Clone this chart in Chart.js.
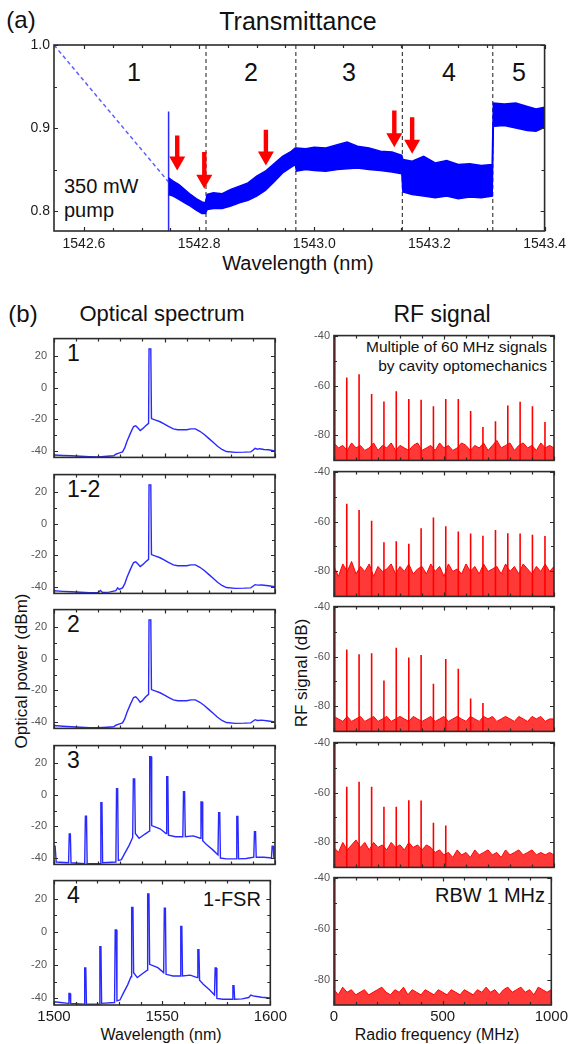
<!DOCTYPE html>
<html>
<head>
<meta charset="utf-8">
<script src="https://cdn.jsdelivr.net/npm/chart.js@4.4.1/dist/chart.umd.min.js"></script>
<style>
  html,body{margin:0;padding:0;background:#fff;}
  #root{position:relative;width:571px;height:1044px;overflow:hidden;background:#fff;}
  .t{position:absolute;white-space:nowrap;font-family:'Liberation Sans',Arial,sans-serif;color:#111;transform:translate(-50%,-50%);line-height:1;}
  .l{transform:translate(0,-50%);}
  .r{transform:translate(-100%,-50%);}
  .rot{transform:translate(-50%,-50%) rotate(-90deg);}
</style>
</head>
<body>
<div id="root">
  <div class="t" style="left:21px;top:20px;font-size:24px">(a)</div>
  <div class="t" style="left:298px;top:21px;font-size:25px">Transmittance</div>
  <div class="t" style="left:134px;top:72px;font-size:25px">1</div>
  <div class="t" style="left:251px;top:72px;font-size:25px">2</div>
  <div class="t" style="left:349px;top:72px;font-size:25px">3</div>
  <div class="t" style="left:449px;top:72px;font-size:25px">4</div>
  <div class="t" style="left:519px;top:72px;font-size:25px">5</div>
  <div class="t l" style="left:64px;top:186px;font-size:20px">350 mW</div>
  <div class="t l" style="left:64px;top:210px;font-size:20px">pump</div>
  <div class="t" style="left:298px;top:263px;font-size:20px">Wavelength (nm)</div>

  <div class="t" style="left:23px;top:314px;font-size:24px">(b)</div>
  <div class="t" style="left:162px;top:314px;font-size:22px">Optical spectrum</div>
  <div class="t" style="left:442px;top:314px;font-size:23px">RF signal</div>

  <div class="t l" style="left:67px;top:353px;font-size:23px">1</div>
  <div class="t l" style="left:67px;top:489px;font-size:23px">1-2</div>
  <div class="t l" style="left:67px;top:624px;font-size:23px">2</div>
  <div class="t l" style="left:67px;top:760px;font-size:23px">3</div>
  <div class="t l" style="left:67px;top:895px;font-size:23px">4</div>
  <div class="t" style="left:232px;top:899px;font-size:20px">1-FSR</div>

  <div class="t r" style="left:547px;top:347px;font-size:15.5px">Multiple of 60 MHz signals</div>
  <div class="t r" style="left:547px;top:366px;font-size:15.5px">by cavity optomechanics</div>
  <div class="t r" style="left:545px;top:895px;font-size:20px">RBW 1 MHz</div>

  <div class="t rot" style="left:21px;top:671px;font-size:17px">Optical power (dBm)</div>
  <div class="t rot" style="left:301px;top:673px;font-size:17px">RF signal (dB)</div>
  <div class="t" style="left:161px;top:1035px;font-size:16px">Wavelength (nm)</div>
  <div class="t" style="left:437px;top:1035px;font-size:16px">Radio frequency (MHz)</div>
</div>
<script>
// ---------------- DATA ----------------
// (a) Transmittance
const transX = [1542.747,1542.755,1542.765,1542.775,1542.785,1542.795,1542.805,1542.811,1542.814,1542.825,
                1542.840,1542.855,1542.870,1542.885,1542.900,1542.915,1542.930,1542.945,1542.960,1542.967,
                1542.969,1542.985,1543.000,1543.020,1543.040,1543.057,1543.075,1543.095,1543.115,1543.135,
                1543.152,1543.154,1543.170,1543.190,1543.210,1543.230,1543.250,1543.270,1543.290,1543.309,
                1543.311,1543.330,1543.350,1543.370,1543.385,1543.400];
const transUpper = [0.840,0.836,0.832,0.826,0.820,0.815,0.811,0.810,0.820,0.822,
                    0.821,0.826,0.830,0.834,0.842,0.848,0.857,0.866,0.872,0.876,
                    0.876,0.875,0.877,0.876,0.880,0.883,0.878,0.876,0.872,0.871,
                    0.867,0.862,0.860,0.866,0.858,0.861,0.856,0.857,0.855,0.856,
                    0.930,0.929,0.930,0.926,0.923,0.925];
const transLower = [0.820,0.818,0.814,0.810,0.806,0.801,0.797,0.797,0.802,0.803,
                    0.803,0.806,0.810,0.813,0.818,0.825,0.835,0.846,0.853,0.856,
                    0.848,0.850,0.849,0.848,0.850,0.851,0.852,0.850,0.849,0.847,
                    0.845,0.823,0.820,0.818,0.816,0.818,0.815,0.817,0.816,0.818,
                    0.902,0.903,0.900,0.897,0.896,0.901];
const pumpLine = [[1542.747,0.776],[1542.747,0.920]];
const pumpGuide = [[1542.548,1.000],[1542.747,0.835]];
const regionBounds = [1542.812,1542.968,1543.153,1543.310];
const arrowX   = [1542.762,1542.809,1542.916,1543.139,1543.170];
const arrowTop = [0.891,0.871,0.898,0.921,0.913];
const arrowTip = [0.849,0.827,0.855,0.877,0.869];
const topXTicks = [1542.6,1542.8,1543.0,1543.2,1543.4];
const topXMinor = [1542.65,1542.7,1542.75,1542.85,1542.9,1542.95,1543.05,1543.1,1543.15,1543.25,1543.3,1543.35];
const topYTicks = [0.8,0.9,1.0];
const topYMinor = [0.85,0.95];

// (b) Optical spectra [wavelength nm, power dBm]
const spec1 = [[1500,-42.5],[1504,-42.8],[1508,-43],[1512,-43.3],[1516,-43.5],[1520,-43.7],[1524,-43.3],[1527,-43],[1528,-42],[1529,-41.5],
  [1530,-41],[1531,-40.5],[1532,-38],[1533,-34],[1534.5,-29],[1536,-24.5],[1537,-24],[1538,-25.5],[1539,-27],[1540,-26],
  [1541.5,-24],[1542.8,-22.5],[1543,24.5],[1543.8,24.5],[1544.1,-19.5],[1546,-20.5],[1548,-21.5],[1550,-23],[1552,-24.5],[1554,-26],
  [1556,-26.5],[1558,-26.5],[1560,-26.5],[1562,-26],[1564,-26],[1566,-27.5],[1568,-29.5],[1570,-32],[1572,-34.5],[1574,-37],
  [1576,-39],[1578,-40.3],[1582,-40.8],[1586,-40.7],[1589,-40.5],[1590,-39.5],[1591,-38.3],[1592,-38.8],[1593,-38.5],[1595,-39],[1597,-39.2],[1600,-40]];
const spec12 = [[1500,-42.3],[1504,-42.7],[1508,-43],[1512,-43.3],[1516,-43.5],[1520,-43.5],[1521,-42.2],[1522,-43.4],[1525,-43.2],[1528,-42.3],
  [1528.8,-40.5],[1529.5,-41.5],[1531,-40.5],[1532,-38],[1533,-34],[1534.5,-29],[1536,-24.5],[1537,-24],[1538,-25.5],[1539,-27],[1540,-26],
  [1541.5,-24],[1542.8,-22.5],[1543,24.5],[1543.8,24.5],[1544.1,-19.5],[1546,-20.5],[1548,-21.5],[1550,-23],[1552,-24.5],[1554,-26],
  [1556,-26.5],[1558,-26.5],[1560,-26.5],[1562,-26],[1564,-26],[1566,-27.5],[1568,-29.5],[1570,-32],[1572,-34.5],[1574,-37],
  [1576,-39],[1578,-40.3],[1582,-40.8],[1586,-40.7],[1589,-40.5],[1590,-39.5],[1591,-38.5],[1592,-38.8],[1594,-38.7],[1597,-39.2],[1600,-39.8]];
const spec2 = [[1500,-42.2],[1504,-42.6],[1508,-43],[1512,-43.3],[1516,-43.6],[1520,-43.6],[1524,-43.3],[1527,-43],[1528,-42],[1529,-41.5],
  [1530,-41],[1531,-40.5],[1532,-38],[1533,-34],[1534.5,-29],[1536,-24.5],[1537,-24],[1538,-25.5],[1539,-27.5],[1540,-26.5],
  [1541.5,-24],[1542.8,-22.5],[1543,24.5],[1543.8,24.5],[1544.1,-19.5],[1546,-20.5],[1548,-21.5],[1550,-23],[1552,-24.5],[1554,-26],
  [1556,-26.5],[1558,-26.5],[1560,-26.5],[1562,-26],[1564,-26],[1566,-27.5],[1568,-29.5],[1570,-32],[1572,-34.5],[1574,-37],
  [1576,-39],[1578,-40.3],[1582,-40.8],[1586,-40.7],[1589,-40.5],[1590,-39.5],[1591,-38.5],[1592,-39],[1594,-38.8],[1597,-39.3],[1600,-40]];
const spec3 = [[1500,-32.5],[1500.5,-32.5],[1501,-42.5],[1506.6,-43],[1506.9,-24.8],[1507.4,-24.8],[1507.7,-43],[1513.9,-43.5],[1514.2,-13.6],[1514.7,-13.6],
  [1515,-43.5],[1520.9,-43.5],[1521.2,-5],[1521.7,-5],[1522,-43],[1528,-42.5],[1528.3,3.8],[1528.8,3.8],[1529.1,-41.5],[1530.5,-41],
  [1532,-37],[1534,-32],[1535.6,-27],[1535.9,10],[1536.5,10],[1536.8,-24.5],[1538.5,-27.5],[1541,-25],[1543.1,-23],[1543.3,24],
  [1543.9,24],[1544.2,-19.5],[1548,-21.5],[1550.7,-24.5],[1551,11.3],[1551.5,11.3],[1551.8,-25.5],[1555,-26.5],[1558.3,-26.5],[1558.6,1.9],
  [1559.1,1.9],[1559.4,-26.5],[1563,-26],[1566.2,-27.5],[1566.5,-4.5],[1567,-4.5],[1567.3,-29],[1569,-31.5],[1572,-35],[1574.2,-38],
  [1574.5,-11.3],[1575,-11.3],[1575.3,-40],[1578,-40.5],[1582.4,-40.5],[1582.7,-13.8],[1583.2,-13.8],[1583.5,-40.5],[1587,-40.3],[1590.4,-39.5],
  [1590.7,-23.4],[1591.2,-23.4],[1591.5,-39.5],[1595,-39.5],[1598.4,-40],[1598.7,-32.5],[1599.2,-32.5],[1599.5,-40],[1600,-40]];
const spec4 = [[1500,-42],[1503,-42.5],[1506.6,-43],[1506.9,-37],[1507.4,-37],[1507.7,-43],[1513.9,-43.5],[1514.2,-21.7],[1514.7,-21.7],[1515,-43.5],
  [1520.9,-43.5],[1521.2,-8.8],[1521.7,-8.8],[1522,-43],[1528,-42.5],[1528.3,1.3],[1528.8,1.3],[1529.1,-41.5],[1530.5,-41],[1532,-37],
  [1534,-32],[1535.6,-27],[1535.9,14.8],[1536.5,14.8],[1536.8,-24.5],[1538.5,-27.5],[1541,-25],[1543.1,-23],[1543.3,23],[1543.9,23],
  [1544.2,-19.5],[1548,-21.5],[1550.7,-24.5],[1551,14.4],[1551.5,14.4],[1551.8,-25.5],[1555,-26.5],[1558.3,-26.5],[1558.6,3.3],[1559.1,3.3],
  [1559.4,-26.5],[1563,-26],[1566.2,-27.5],[1566.5,-10.6],[1567,-10.6],[1567.3,-29],[1569,-31.5],[1572,-35],[1574.2,-38],[1574.5,-21.7],
  [1575,-21.7],[1575.3,-40],[1578,-40.5],[1582.4,-40.5],[1582.7,-32.3],[1583.2,-32.3],[1583.5,-40.5],[1587,-40.3],[1590,-39.5],[1591,-38],
  [1592,-38.5],[1593,-38.7],[1596,-39.3],[1600,-39.8]];
const specXTicks = [1500,1550,1600];
const specXMinor = [1510,1520,1530,1540,1560,1570,1580,1590];
const specYTicks = [20,0,-20,-40];
const specYMinor = [10,-10,-30];

// (b) RF spectra
const rfPeakFreq = [4,58,114,171,227,283,340,396,452,508,565,621,677,734,790,846,902,959];
const rf1Peaks = [-40,-56.8,-55.5,-63.4,-66.4,-62.3,-65.4,-65.7,-68.3,-65.4,-65.4,-70.2,-76.6,-74.3,-68,-66.5,-68.3,-74.6];
const rf2Peaks = [-40,-52.9,-55.4,-59.7,-68.3,-67.9,-68.9,-62.7,-58.4,-61.9,-64,-64.8,-65.7,-63.4,-64.7,-64.8,-65.3,-65.8];
const rf3Peaks = [-40,-57.2,-59.1,-58.7,-69.6,-56.5,-60.4,-59.4,-70.9,-61,-64.9,-76.8,-78.6];
const rf4Peaks = [-40,-57.7,-55.7,-57.7,-65.7,-65.7,-63.1,-63.2,-72.1,-73.2];
const rf5Peaks = [-40];
const rfNoiseFreq = [0,20,40,60,80,100,120,140,160,180,200,220,240,260,280,300,320,340,360,380,400,420,440,460,480,500,
  520,540,560,580,600,620,640,660,680,700,720,740,760,780,800,820,840,860,880,900,920,940,960,980,1000];
const rf1Noise = [-83,-85,-84,-86,-83,-85,-84,-86,-85,-83,
  -86,-84,-85,-83,-86,-84,-85,-86,-84,-83,
  -86,-85,-84,-86,-83,-85,-84,-86,-85,-83,
  -84,-86,-84,-85,-83,-86,-84,-82,-85,-84,
  -83,-86,-84,-83,-85,-84,-86,-83,-85,-84,-85];
const rf2Noise = [-78,-82,-77,-80,-76,-81,-78,-80,-77,-82,
  -78,-80,-79,-77,-81,-78,-80,-77,-81,-79,
  -78,-81,-77,-80,-78,-82,-77,-80,-79,-81,
  -77,-80,-78,-81,-77,-80,-79,-78,-81,-77,
  -80,-78,-81,-77,-79,-81,-78,-80,-77,-80,-78];
const rf3Noise = [-84,-85,-86,-84,-86,-85,-84,-86,-85,-84,
  -86,-85,-84,-86,-85,-84,-85,-86,-84,-85,
  -86,-85,-84,-86,-85,-84,-86,-85,-84,-85,
  -86,-84,-85,-86,-84,-85,-84,-86,-85,-84,
  -85,-86,-84,-85,-86,-84,-85,-84,-86,-85,-85];
const rf4Noise = [-82,-84,-80,-83,-81,-79,-82,-80,-83,-80,
  -82,-81,-83,-80,-82,-81,-83,-80,-82,-81,
  -83,-81,-82,-84,-83,-85,-84,-86,-83,-85,
  -84,-86,-83,-85,-84,-83,-85,-84,-86,-83,
  -85,-84,-83,-85,-84,-83,-85,-84,-85,-84,-85];
const rf5Noise = [-84,-86,-83,-85,-84,-86,-85,-84,-86,-85,
  -84,-83,-85,-86,-84,-85,-83,-86,-84,-85,
  -86,-84,-85,-86,-84,-85,-86,-84,-85,-86,
  -84,-85,-86,-84,-85,-83,-85,-84,-86,-84,
  -83,-85,-84,-83,-85,-84,-86,-83,-84,-85,-84];
const rfXTicks = [0,500,1000];
const rfXMinor = [100,200,300,400,600,700,800,900];
const rfYTicks = [-40,-60,-80];
const rfYMinor = [-50,-70];

// ---------------- RENDERING ----------------
Chart.defaults.font.family = "'Liberation Sans', Arial, sans-serif";
const root = document.getElementById('root');

const framePlugin = {
  id: 'frame',
  afterDatasetsDraw(chart, args, o) {
    const {ctx, chartArea: a} = chart;
    const x = chart.scales.x, y = chart.scales.y;
    ctx.save();
    ctx.strokeStyle = '#2b2b2b';
    ctx.lineWidth = 1.2;
    ctx.beginPath();
    const tk = (vals, len, axis) => {
      for (const v of vals) {
        if (axis === 'x') {
          const p = Math.round(x.getPixelForValue(v)) + 0.5;
          ctx.moveTo(p, a.bottom); ctx.lineTo(p, a.bottom - len);
          ctx.moveTo(p, a.top); ctx.lineTo(p, a.top + len);
        } else {
          const p = Math.round(y.getPixelForValue(v)) + 0.5;
          ctx.moveTo(a.left, p); ctx.lineTo(a.left + len, p);
          ctx.moveTo(a.right, p); ctx.lineTo(a.right - len, p);
        }
      }
    };
    tk(o.xMajor || [], 4, 'x'); tk(o.xMinor || [], 3, 'x');
    tk(o.yMajor || [], 4, 'y'); tk(o.yMinor || [], 3, 'y');
    ctx.stroke();
    ctx.lineWidth = 1.6;
    ctx.strokeRect(a.left, a.top, a.right - a.left, a.bottom - a.top);
    ctx.restore();
  }
};

const arrowPlugin = {
  id: 'arrows',
  afterDatasetsDraw(chart, args, o) {
    if (!o.x) return;
    const {ctx} = chart;
    const x = chart.scales.x, y = chart.scales.y;
    ctx.save();
    ctx.fillStyle = '#ff0000';
    for (let i = 0; i < o.x.length; i++) {
      const px = x.getPixelForValue(o.x[i]);
      const pt = y.getPixelForValue(o.top[i]);
      const pb = y.getPixelForValue(o.tip[i]);
      const headH = 14, headW = 8, shaft = 2.2;
      ctx.beginPath();
      ctx.moveTo(px - shaft, pt);
      ctx.lineTo(px + shaft, pt);
      ctx.lineTo(px + shaft, pb - headH);
      ctx.lineTo(px + headW, pb - headH);
      ctx.lineTo(px, pb);
      ctx.lineTo(px - headW, pb - headH);
      ctx.lineTo(px - shaft, pb - headH);
      ctx.closePath();
      ctx.fill();
    }
    ctx.restore();
  }
};

function addCanvas(left, top, w, h) {
  const c = document.createElement('canvas');
  c.width = w; c.height = h;
  c.style.cssText = `position:absolute;left:${left}px;top:${top}px;width:${w}px;height:${h}px;`;
  root.appendChild(c);
  return c;
}

function makeChart(p) {
  const c = addCanvas(p.left, p.top, p.w, p.h);
  return new Chart(c, {
    type: 'line',
    data: { datasets: p.datasets },
    options: {
      responsive: false, animation: false, devicePixelRatio: 1,
      layout: { autoPadding: false, padding: { left: 0, right: p.pr, top: p.pt, bottom: p.pb } },
      elements: { point: { radius: 0 }, line: { tension: 0 } },
      plugins: {
        legend: { display: false }, tooltip: { enabled: false },
        frame: { xMajor: p.xTicks, xMinor: p.xMinor, yMajor: p.yTicks, yMinor: p.yMinor },
        arrows: p.arrows || {}
      },
      scales: {
        x: {
          type: 'linear', min: p.xRange[0], max: p.xRange[1],
          grid: { display: false, drawTicks: false }, border: { display: false },
          ticks: { display: p.showX, padding: p.xPad || 3, maxRotation: 0, autoSkip: false,
                   color: '#1a1a1a', font: { size: p.xFont || 15 }, callback: p.xFmt || (v => String(v)) },
          afterBuildTicks: s => { s.ticks = p.xTicks.map(v => ({ value: v })); },
          afterFit: s => { s.height = p.xh; }
        },
        y: {
          type: 'linear', min: p.yRange[0], max: p.yRange[1],
          grid: { display: false, drawTicks: false }, border: { display: false },
          ticks: { padding: p.yPad || 4, autoSkip: false, color: p.yColor || '#555',
                   font: { size: p.yFont || 11 }, callback: p.yFmt || (v => String(v)) },
          afterBuildTicks: s => { s.ticks = p.yTicks.map(v => ({ value: v })); },
          afterFit: s => { s.width = p.yw; }
        }
      }
    },
    plugins: [framePlugin, arrowPlugin]
  });
}

const pts = arr => arr.map(([x, y]) => ({ x, y }));

// ---- (a) top panel
const TOP_YMIN = 0.776, TOP_YMAX = 1.0;
const dividerData = [];
regionBounds.forEach(b => { dividerData.push({x: b, y: TOP_YMIN}, {x: b, y: TOP_YMAX}, {x: b, y: null}); });
makeChart({
  left: 0, top: 30, w: 571, h: 230, pr: 23, pt: 15, pb: 5, yw: 54, xh: 24,
  xRange: [1542.548, 1543.4], yRange: [TOP_YMIN, TOP_YMAX],
  xTicks: topXTicks, xMinor: topXMinor, yTicks: topYTicks, yMinor: topYMinor,
  showX: true, xFont: 14, xPad: 5, yFont: 14, yColor: '#1a1a1a', yPad: 4,
  xFmt: v => v.toFixed(1), yFmt: v => v.toFixed(1),
  arrows: { x: arrowX, top: arrowTop, tip: arrowTip },
  datasets: [
    { data: transX.map((x, i) => ({ x, y: transUpper[i] })), borderColor: '#0000ff', borderWidth: 1.5, fill: false },
    { data: transX.map((x, i) => ({ x, y: transLower[i] })), borderColor: '#0000ff', borderWidth: 1.5, fill: '-1', backgroundColor: '#0000ff' },
    { data: pts(pumpLine), borderColor: '#2a2aff', borderWidth: 1.5, fill: false },
    { data: pts(pumpGuide), borderColor: '#6060ff', borderWidth: 1.5, borderDash: [4, 3], fill: false },
    { data: dividerData, borderColor: '#404040', borderWidth: 1.2, borderDash: [4, 3], fill: false, spanGaps: false }
  ]
});

// ---- (b) left column: optical spectra
const panelTops = [333, 469, 604, 740, 875];
const PANEL_H = 130;
const specs = [spec1, spec12, spec2, spec3, spec4];
specs.forEach((s, i) => {
  const last = i === specs.length - 1;
  makeChart({
    left: 0, top: panelTops[i] - 8, w: 290, h: PANEL_H + 8 + (last ? 30 : 8),
    pr: 15, pt: 8, pb: 8, yw: 54, xh: last ? 22 : 0,
    xRange: [1500, 1600], yRange: [-44, 31],
    xTicks: specXTicks, xMinor: specXMinor, yTicks: specYTicks, yMinor: specYMinor,
    showX: last, yPad: 7,
    datasets: [{ data: pts(s), borderColor: '#2a2aff', borderWidth: 1.4, fill: false }]
  });
});

// ---- (b) right column: RF spectra
const RF_MIN = -90, RF_MAX = -40;
const rfPeaks = [rf1Peaks, rf2Peaks, rf3Peaks, rf4Peaks, rf5Peaks];
const rfNoise = [rf1Noise, rf2Noise, rf3Noise, rf4Noise, rf5Noise];
rfPeaks.forEach((pk, i) => {
  const last = i === rfPeaks.length - 1;
  const spikes = [];
  pk.forEach((v, k) => { spikes.push({x: rfPeakFreq[k], y: RF_MIN}, {x: rfPeakFreq[k], y: v}, {x: rfPeakFreq[k], y: null}); });
  makeChart({
    left: 285, top: panelTops[i] - 8, w: 286, h: PANEL_H + 8 + (last ? 30 : 8),
    pr: 17, pt: 8, pb: 8, yw: 49, xh: last ? 22 : 0,
    xRange: [0, 1000], yRange: [RF_MIN, RF_MAX],
    xTicks: rfXTicks, xMinor: rfXMinor, yTicks: rfYTicks, yMinor: rfYMinor,
    showX: last, yPad: 4,
    datasets: [
      { data: rfNoiseFreq.map((f, k) => ({ x: f, y: rfNoise[i][k] })), borderColor: '#ff0000', borderWidth: 1,
        fill: 'start', backgroundColor: 'rgba(255,0,0,0.78)' },
      { data: spikes, borderColor: '#ff0000', borderWidth: 1.6, fill: false, spanGaps: false }
    ]
  });
});
</script>
</body>
</html>
